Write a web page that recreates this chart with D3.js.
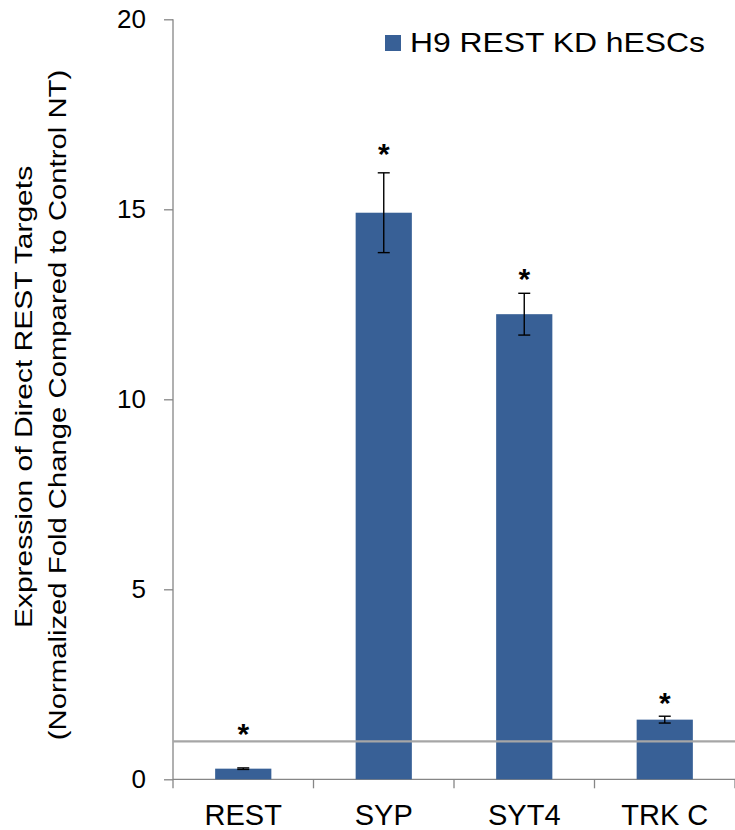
<!DOCTYPE html>
<html>
<head>
<meta charset="utf-8">
<script src="https://cdn.jsdelivr.net/npm/d3@7"></script>
<style>
  html, body { margin: 0; padding: 0; background: #fff; }
  svg { display: block; font-family: "Liberation Sans", Arial, sans-serif; }
</style>
</head>
<body>
<script>
// ---- data ----
const categories = ["REST", "SYP", "SYT4", "TRK C"];
const values = [0.28, 14.91, 12.24, 1.57];
const errors = [0.02, 1.05, 0.55, 0.09];
const sigLabels = ["*", "*", "*", "*"];
const sigY = [1.32, 16.6, 13.3, 2.15];
const yTicks = [0, 5, 10, 15, 20];
const refLineValue = 1;
const seriesName = "H9 REST KD hESCs";
const yTitleLines = ["Expression of Direct  REST Targets", "(Normalized Fold Change Compared to Control NT)"];

(function () {
// ---- layout ----
const W = 735, H = 830;
const mLeft = 173, mRight = 735, mTop = 19.3, mBottom = 779.3;
const barColor = "#386096";
const axisColor = "#868686";

const svg = d3.select("body").append("svg").attr("width", W).attr("height", H);

const x = d3.scaleBand().domain(categories).range([mLeft, mRight]).paddingInner(0.6).paddingOuter(0.3);
const y = d3.scaleLinear().domain([0, 20]).range([mBottom, mTop]);

// y axis
const yAxis = d3.axisLeft(y).tickValues(yTicks).tickSize(9).tickPadding(18).tickFormat(d3.format("d"));
const gy = svg.append("g").attr("transform", `translate(${mLeft},0)`).call(yAxis);
gy.select(".domain").remove();
gy.selectAll(".tick line").attr("stroke", axisColor).attr("stroke-width", 1.3);
gy.selectAll(".tick text").attr("font-size", 26).attr("fill", "#000").attr("font-family", "Liberation Sans, Arial, sans-serif");
svg.append("line").attr("x1", mLeft).attr("x2", mLeft).attr("y1", mTop).attr("y2", mBottom)
  .attr("stroke", axisColor).attr("stroke-width", 1.3);

// x axis line and boundary ticks
svg.append("line").attr("x1", mLeft).attr("x2", mRight).attr("y1", mBottom).attr("y2", mBottom)
  .attr("stroke", axisColor).attr("stroke-width", 1.3);
const bounds = categories.map(c => x(c) - x.step() * x.paddingInner() / 2).concat([mRight]);
svg.selectAll(".xtick").data(bounds).enter().append("line")
  .attr("x1", d => d).attr("x2", d => d).attr("y1", mBottom).attr("y2", mBottom + 9)
  .attr("stroke", axisColor).attr("stroke-width", 1.3);

// x labels
svg.selectAll(".xlab").data(categories).enter().append("text")
  .attr("x", d => x(d) + x.bandwidth() / 2).attr("y", 825)
  .attr("text-anchor", "middle").attr("font-size", 29).attr("fill", "#000")
  .text(d => d);

// bars
svg.selectAll(".bar").data(categories).enter().append("rect")
  .attr("x", d => x(d)).attr("width", x.bandwidth())
  .attr("y", (d, i) => y(values[i])).attr("height", (d, i) => y(0) - y(values[i]))
  .attr("fill", barColor);

// reference line
svg.append("line").attr("x1", mLeft).attr("x2", mRight)
  .attr("y1", y(refLineValue)).attr("y2", y(refLineValue))
  .attr("stroke", "#a6a6a6").attr("stroke-width", 2.2);

// error bars
const eg = svg.selectAll(".err").data(categories).enter().append("g")
  .attr("stroke", "#000").attr("stroke-width", 1.4);
eg.append("line").attr("x1", d => x(d) + x.bandwidth() / 2).attr("x2", d => x(d) + x.bandwidth() / 2)
  .attr("y1", (d, i) => y(values[i] + errors[i])).attr("y2", (d, i) => y(values[i] - errors[i]));
eg.append("line").attr("x1", d => x(d) + x.bandwidth() / 2 - 6).attr("x2", d => x(d) + x.bandwidth() / 2 + 6)
  .attr("y1", (d, i) => y(values[i] + errors[i])).attr("y2", (d, i) => y(values[i] + errors[i]));
eg.append("line").attr("x1", d => x(d) + x.bandwidth() / 2 - 6).attr("x2", d => x(d) + x.bandwidth() / 2 + 6)
  .attr("y1", (d, i) => y(values[i] - errors[i])).attr("y2", (d, i) => y(values[i] - errors[i]));

// significance asterisks
svg.selectAll(".sig").data(categories).enter().append("text")
  .attr("x", d => x(d) + x.bandwidth() / 2).attr("y", (d, i) => y(sigY[i]) + 15)
  .attr("text-anchor", "middle").attr("font-size", 30).attr("font-weight", "bold").attr("fill", "#000")
  .text((d, i) => sigLabels[i]);

// legend
svg.append("rect").attr("x", 385).attr("y", 35).attr("width", 16).attr("height", 16).attr("fill", barColor);
svg.append("text").attr("transform", "translate(410,52) scale(1.18,1)")
  .attr("font-size", 27).attr("fill", "#000").text(seriesName);

// y title (two lines, rotated)
svg.append("text").attr("transform", "translate(32,397) rotate(-90) scale(1.25,1)")
  .attr("text-anchor", "middle").attr("font-size", 24).attr("fill", "#000").text(yTitleLines[0]);
svg.append("text").attr("transform", "translate(66,405) rotate(-90) scale(1.22,1)")
  .attr("text-anchor", "middle").attr("font-size", 24).attr("fill", "#000").text(yTitleLines[1]);
})();
</script>
</body>
</html>
